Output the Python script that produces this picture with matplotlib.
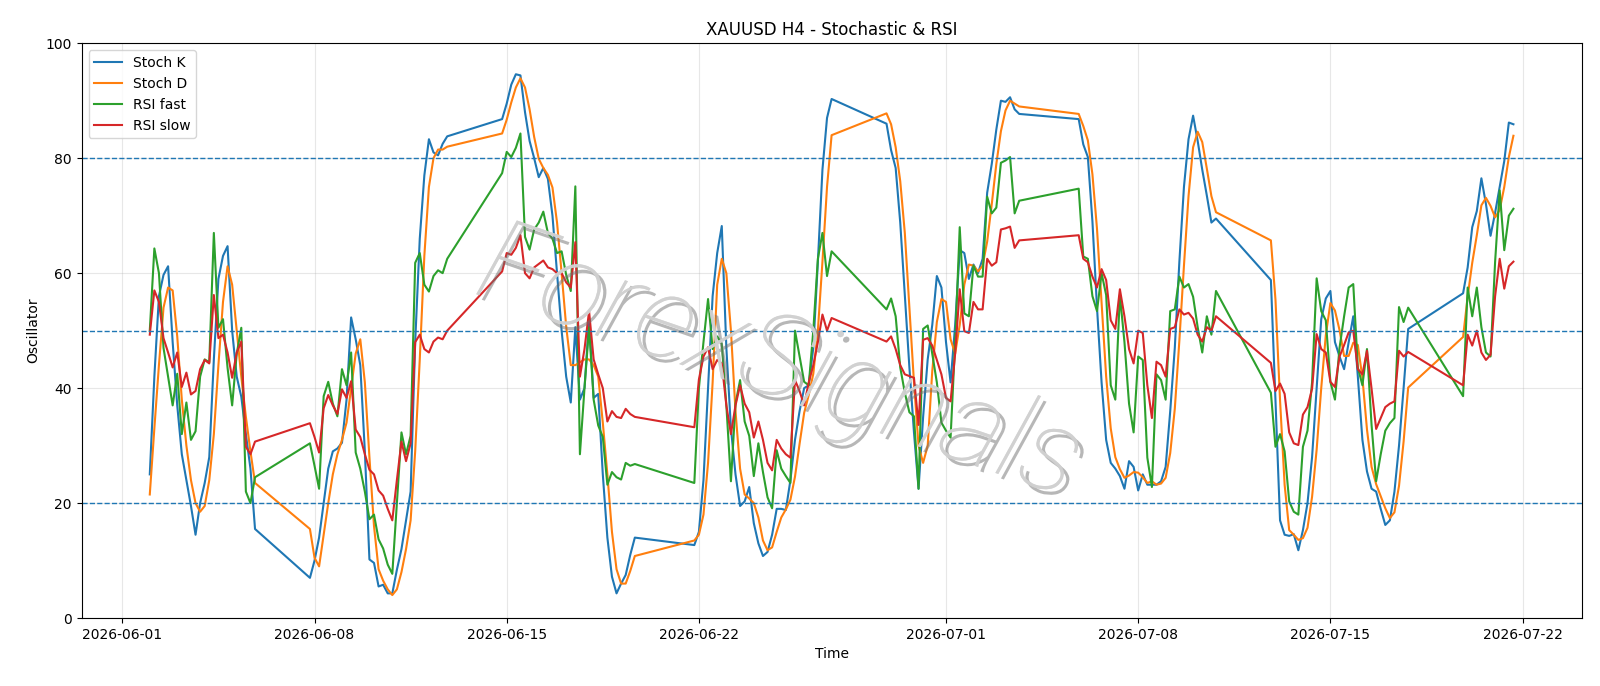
import matplotlib
matplotlib.use("Agg")
import matplotlib.pyplot as plt
import matplotlib.patheffects as pe
import numpy as np
import pandas as pd

# H4 trading sessions: (first bar, number of bars)
segments = [
    ("2026-06-02 00:00", 24),
    ("2026-06-07 20:00", 31),
    ("2026-06-14 20:00", 30),
    ("2026-06-21 20:00", 31),
    ("2026-06-28 20:00", 30),
    ("2026-07-05 20:00", 31),
    ("2026-07-12 20:00", 31),
    ("2026-07-19 20:00", 12),
]

stoch_k = [
    25, 42, 56, 59.7, 61.2, 48, 37, 28.5, 24, 19.5, 14.5, 20, 23.5, 28, 45, 59, 63, 64.7, 50, 42, 38.5, 32, 26, 15.5,
    7, 10, 14, 20, 26, 29, 29.5, 30.5, 38, 52.3, 48.5, 44, 29, 10.2, 9.6, 5.5, 5.8, 4.3, 4.3, 8.4, 12, 17, 22, 48, 66,
    77, 83.3, 81, 80.5, 82.5, 83.8,
    86.8, 89.5, 92.8, 94.6, 94.4, 88, 83, 80, 76.7, 78.3, 76.4, 70, 60, 50, 42, 37.5, 50.6, 38, 40, 52, 38.3, 39, 25,
    14, 7.2, 4.3, 6, 7.5, 11, 14,
    12.7, 15, 24, 40, 56, 63.5, 68.2, 47, 33, 25, 19.5, 20.3, 22.8, 16.5, 13, 10.8, 11.5, 14.5, 19, 19, 18.8, 24, 31,
    36, 40, 40.5, 47, 62, 78, 87, 90.3,
    86, 81.4, 78.3, 68.8, 56.2, 43.6, 32.3, 22.5, 35, 45, 51, 59.5, 57.5, 48, 41, 51, 64, 63.5, 59, 61.5, 60, 62.5, 74,
    79, 85, 90, 89.8, 90.6, 88.5, 87.7,
    86.8, 82.4, 80.2, 69, 54, 41, 31, 27, 26, 24.7, 22.5, 27.3, 26.3, 22.2, 25, 23.2, 23.2, 23.2, 23.8, 26.3, 36, 47,
    62, 75, 83.3, 87.4, 83, 78, 73.5, 68.8, 69.5,
    58.8, 38, 17, 14.5, 14.3, 14.6, 11.8, 15.3, 20, 28, 40, 52, 55.6, 56.9, 48, 45.5, 43.3, 48, 52.5, 42, 31, 25.5,
    22.5, 22, 19, 16.2, 17, 22, 30, 40, 50.3,
    56.5, 61, 68, 70.8, 76.5, 72, 66.5, 70.5, 75, 79.5, 86.2, 85.9,
]

stoch_d = [
    21.5, 33, 44, 54, 57.5, 57, 49, 38, 30, 24, 20, 18.5, 19.5, 24, 32, 44, 55, 61.2, 58, 50, 42, 35, 29, 23.5,
    15.5, 10.5, 9, 14.5, 20, 25, 28.5, 31, 34, 40, 46, 48.5, 41, 28, 16, 8.5, 6.5, 5, 4, 5, 8, 12, 17, 29, 45, 63, 75,
    80, 81.5, 81.5, 82,
    84.3, 86.7, 89.7, 92.3, 93.9, 92.3, 88.5, 83.7, 79.9, 78.3, 77.1, 74.9, 68.8, 60, 50.7, 44, 44, 44.5, 45, 45, 44,
    42, 34, 25, 15, 8.5, 6, 6, 8.2, 10.8,
    13.5, 14.5, 18, 27, 41, 58, 62.5, 60, 50, 36, 26, 21.5, 20.8, 20, 17.5, 13.5, 11.8, 12.3, 15, 17.5, 18.9, 20.6,
    24.6, 30.3, 35.7, 38.8, 42.5, 50, 62, 75, 84,
    87.8, 85.9, 81.9, 76, 67, 54, 41, 30, 27, 30, 43, 51.5, 55.5, 55, 48.5, 46, 51, 58, 61.5, 61.3, 60.3, 61.3, 65.5,
    72, 79, 84.7, 88.3, 90, 89.5, 89,
    87.7, 85.6, 83.1, 77.2, 67.7, 54.7, 42, 33, 28, 25.9, 24.4, 24.8, 25.4, 25.3, 24.5, 23.5, 23.8, 23.2, 23.4, 24.4,
    28.7, 36.4, 48.3, 61.3, 73.4, 81.9, 84.6, 82.8, 78.2, 73.4, 70.6,
    65.7, 55.4, 37.9, 23.2, 15.3, 14.5, 13.6, 13.9, 15.7, 21.1, 29.3, 40, 49.2, 54.8, 53.5, 50.1, 45.6, 45.6, 47.9,
    47.5, 41.8, 32.8, 26.3, 23.3, 21.2, 19.1, 17.4, 18.4, 23, 30.7, 40.1,
    48.9, 55.9, 61.8, 66.6, 71.8, 73.1, 71.7, 69.7, 71, 75, 80.2, 83.9,
]

rsi_fast = [
    50, 64.3, 60, 47, 42, 37, 42.5, 32, 37.5, 31, 32.5, 42, 45, 44.5, 67, 50.5, 52, 43.5, 37, 46, 50.5, 22, 20, 24.5,
    30.4, 26.5, 22.5, 38.6, 41.1, 37.3, 35.1, 43.3, 40.5, 46.2, 28.8, 26, 22, 17.2, 18, 13.7, 12.1, 9.3, 7.7, 20, 32.3,
    28.5, 31.7, 61.8, 63.5, 58, 56.8, 59.5, 60.5, 60, 62.5,
    77.4, 81.1, 80.2, 81.8, 84.3, 66.3, 64.1, 67.6, 68.8, 70.7, 67, 66, 63.5, 63.8, 59.7, 56.9, 75.1, 28.5, 40, 50.6,
    38, 33.5, 31.5, 23.2, 25.4, 24.5, 24.1, 27, 26.5, 26.8,
    23.5, 40, 48, 55.5, 46.8, 49, 47.7, 37, 23.8, 37.3, 41.4, 34.2, 31.7, 24.7, 30.4, 25.4, 21, 19.1, 29.2, 26, 24.7,
    23.5, 50, 45.5, 41.1, 40.5, 50, 62.5, 67, 59.5, 63.8,
    53.7, 55.6, 52.5, 43.6, 39.2, 35.8, 35.1, 22.5, 50.3, 50.9, 46, 41, 34, 32.6, 31.4, 48, 68, 53, 52.5, 61.3, 59.4,
    59.4, 73.3, 70.4, 71.4, 79.2, 79.6, 80.2, 70.4, 72.6,
    74.7, 62.9, 62.5, 56, 53.4, 60, 56.2, 40.5, 38, 56.2, 48, 37.3, 32.3, 45.5, 44.9, 27.9, 22.8, 42.4, 41.4, 38, 53.4,
    53.7, 59.4, 57.5, 58.1, 55.9, 50.6, 46.2, 52.5, 49.3, 56.9,
    39.2, 29.8, 32, 29, 20.3, 18.5, 18, 29.8, 32.6, 41, 59.1, 53.4, 51.8, 41.1, 38, 47, 52.5, 57.5, 58.1, 43.6, 40.5,
    46.8, 33.6, 23.8, 28.5, 32.6, 33.9, 34.8, 54.1, 51.5, 54,
    38.6, 57.5, 52.5, 57.5, 50.6, 46.2, 45.5, 62, 74.4, 64, 70, 71.2,
]

rsi_slow = [
    49.3, 57, 55, 48.7, 46.2, 43.6, 46.2, 40.2, 42.7, 38.9, 39.5, 43.3, 44.9, 44.3, 56.2, 48.7, 49.3, 46.2, 41.8, 46.2,
    48.1, 29.8, 28.5, 30.7,
    33.9, 31.5, 28.8, 36.5, 38.8, 37, 35.5, 39.8, 38.3, 41.2, 32.8, 31.5, 28.5, 25.8, 25, 22.2, 21.3, 19, 17, 24, 30.7,
    27.3, 30.4, 48, 49.3, 46.8, 46.2, 48.1, 48.8, 48.5, 50,
    60.3, 63.5, 63.2, 64.4, 66.6, 60, 59.1, 61, 61.6, 62.2, 61, 60.7, 60, 60, 58.4, 57.5, 65.4, 42, 46.8, 53.4, 45,
    42.4, 40, 34.2, 36, 35, 34.8, 36.4, 35.5, 35,
    33.2, 41.5, 45.5, 47.1, 43.3, 44.9, 44.3, 37, 32, 37, 40.5, 37.3, 35.8, 31.4, 34.2, 31, 27, 25.7, 31, 29.5, 28.5,
    27.9, 41.4, 39.5, 37, 41, 44, 48, 52.8, 50, 52.2,
    48.1, 49, 46.8, 44, 42.4, 42.1, 41.8, 33.6, 48.4, 48.7, 47.4, 44.9, 42.4, 38.3, 37.7, 46, 57.2, 49.9, 49.6, 55,
    53.7, 53.7, 62.5, 61.3, 61.9, 67.6, 67.8, 68.1, 64.4, 65.7,
    66.6, 62.5, 61.9, 59.4, 57.5, 60.7, 58.8, 51.8, 50.3, 57.2, 52.5, 46.8, 44.3, 50, 49.6, 40.5, 34.8, 44.6, 44, 42,
    50.3, 50.6, 53.7, 52.8, 53.1, 52.1, 49.3, 48.1, 50.6, 50, 52.5,
    44.4, 39.5, 40.8, 39, 32.3, 30.4, 30.1, 35.4, 36.7, 39.9, 49.4, 46.8, 46.2, 41.1, 40.2, 45.5, 47.5, 49.7, 50, 43.3,
    42.4, 46.5, 39.9, 32.9, 34.8, 36.7, 37.3, 37.7, 46.5, 45.5, 46.3,
    40.5, 49.3, 47.4, 50, 46.2, 44.9, 45.8, 56, 62.5, 57.3, 61.2, 62,
]

levels = [80, 50, 20]

times = pd.DatetimeIndex(np.concatenate(
    [pd.date_range(start, periods=n, freq="4h").values for start, n in segments]))

fig, ax = plt.subplots(figsize=(16, 6.86), dpi=100)
fig.subplots_adjust(left=0.051, right=0.9885, top=0.937, bottom=0.099)

ax.plot(times, stoch_k, label="Stoch K")
ax.plot(times, stoch_d, label="Stoch D")
ax.plot(times, rsi_fast, label="RSI fast")
ax.plot(times, rsi_slow, label="RSI slow")
for lv in levels:
    ax.axhline(lv, linestyle="--", linewidth=1)

ax.set_ylim(0, 100)
ax.grid(True, alpha=0.3)
ax.set_title("XAUUSD H4 - Stochastic & RSI")
ax.set_xlabel("Time")
ax.set_ylabel("Oscillator")
ax.legend(loc="upper left")

# watermark
ax.text(0.465, 0.44, "ForexSignals", transform=ax.transAxes, fontsize=84,
        family=["Roboto", "DejaVu Sans"], style="italic", weight="light",
        color="#d0d0d0", alpha=0.85, rotation=-19,
        ha="center", va="center", zorder=10,
        path_effects=[pe.withSimplePatchShadow(offset=(4, -4), shadow_rgbFace="#707070", alpha=0.5), pe.Normal()])

fig.savefig("out.png")
